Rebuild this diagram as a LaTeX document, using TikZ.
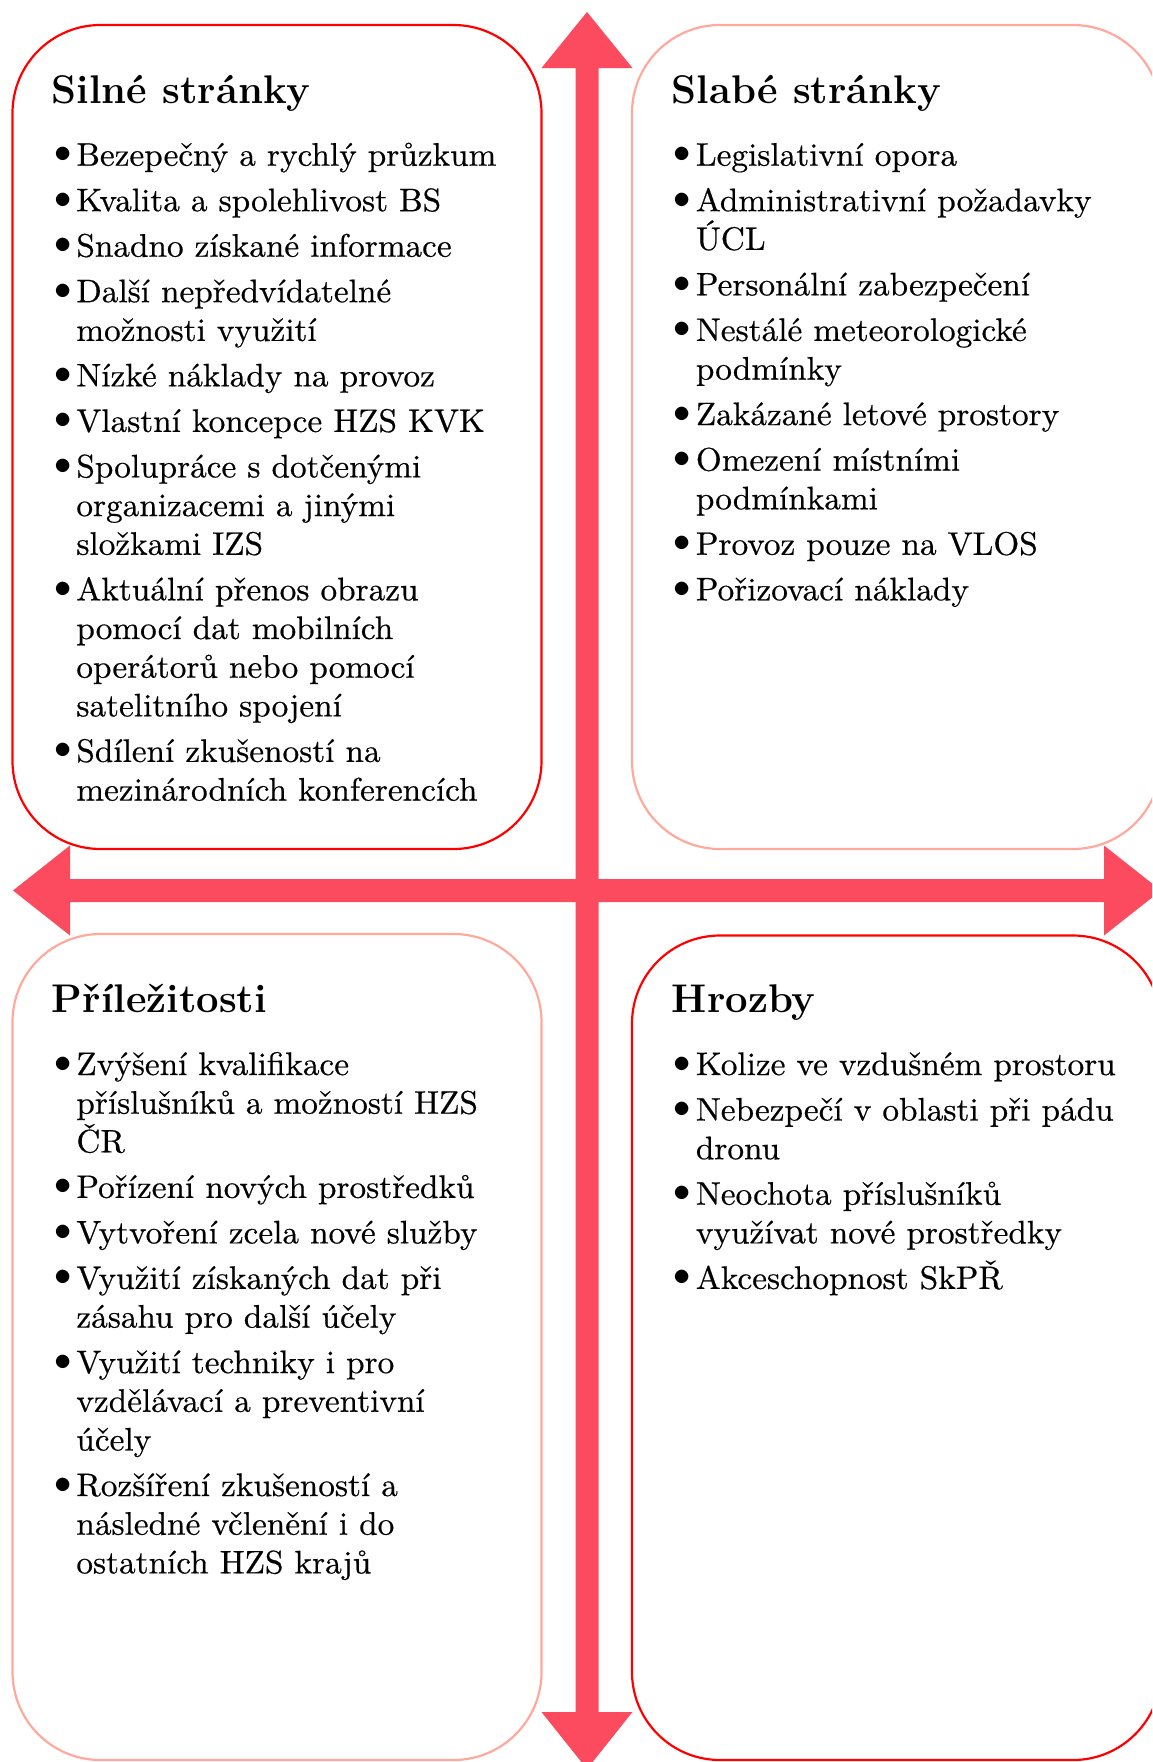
\documentclass[tikz,border=0pt]{standalone}
\usepackage{fontspec}
\newfontfamily\listfont{lmroman10-regular.otf}[FakeStretch=1.02, FakeBold=0.5]
\definecolor{boxred}{HTML}{FF0000}
\definecolor{boxlight}{HTML}{FFA99D}
\definecolor{axisred}{HTML}{FC4A5E}
\newcommand{\swotlist}[1]{\begin{minipage}[t]{260pt}\listfont\fontsize{16.3pt}{19.35pt}\selectfont\setlength{\parskip}{3.4pt}\setlength{\parindent}{0pt}#1\end{minipage}}
\newcommand{\bitem}[1]{\par\hangindent=11pt\hangafter=1\noindent\makebox[11pt][l]{\raisebox{1.5pt}{$\bullet$}}#1\par}
\begin{document}
\begin{tikzpicture}[x=0.5pt,y=-0.5pt,
  swotbox/.style={draw, line width=1.1pt, rounded corners=44pt, minimum width=264.5pt, inner sep=0pt},
  strongbox/.style={swotbox, draw=boxred},
  lightbox/.style={swotbox, draw=boxlight},
  ttl/.style={anchor=base west, inner sep=0pt, font=\fontsize{20pt}{24pt}\selectfont\bfseries},
  lst/.style={anchor=base west, inner sep=0pt},
  axis/.style={fill=axisred, draw=none}]
\useasboundingbox (0,0) rectangle (1152,1762);
\clip (0,0) rectangle (1152,1762);
% boxes
\node[strongbox, minimum height=412pt] (S) at (277,437) {};
\node[lightbox, minimum height=412pt] (W) at (896.5,437) {};
\node[lightbox, minimum height=413pt] (O) at (277,1347) {};
\node[strongbox, minimum height=412.25pt] (T) at (896.5,1347.75) {};
% axes
\fill[axis] (587,12) -- (632.5,68) -- (598.5,68) -- (598.5,1712) -- (632.5,1712) -- (587,1769)
  -- (541.5,1712) -- (575.5,1712) -- (575.5,68) -- (541.5,68) -- cycle;
\fill[axis] (13,890.5) -- (70,845.5) -- (70,879) -- (1104,879) -- (1104,845.5) -- (1161,890.5)
  -- (1104,935.5) -- (1104,902) -- (70,902) -- (70,935.5) -- cycle;
% titles
\node[ttl] (St) at (51.5,103) {Silné stránky};
\node[ttl] (Wt) at (671.5,103) {Slabé stránky};
\node[ttl] (Ot) at (51.5,1012) {Příležitosti};
\node[ttl] (Tt) at (671.5,1012) {Hrozby};
% lists
\node[lst] (Sl) at (54,165.7) {\swotlist{%
\bitem{Bezepečný a rychlý průzkum}
\bitem{Kvalita a spolehlivost BS}
\bitem{Snadno získané informace}
\bitem{Další nepředvídatelné\\možnosti využití}
\bitem{Nízké náklady na provoz}
\bitem{Vlastní koncepce HZS KVK}
\bitem{Spolupráce s dotčenými\\organizacemi a jinými\\složkami IZS}
\bitem{Aktuální přenos obrazu\\pomocí dat mobilních\\operátorů nebo pomocí\\satelitního spojení}
\bitem{Sdílení zkušeností na\\mezinárodních konferencích}}};
\node[lst] (Wl) at (673.5,165.7) {\swotlist{%
\bitem{Legislativní opora}
\bitem{Administrativní požadavky\\ÚCL}
\bitem{Personální zabezpečení}
\bitem{Nestálé meteorologické\\podmínky}
\bitem{Zakázané letové prostory}
\bitem{Omezení místními\\podmínkami}
\bitem{Provoz pouze na VLOS}
\bitem{Pořizovací náklady}}};
\node[lst] (Ol) at (54,1075) {\swotlist{%
\bitem{Zvýšení kvalifikace\\příslušníků a možností HZS\\ČR}
\bitem{Pořízení nových prostředků}
\bitem{Vytvoření zcela nové služby}
\bitem{Využití získaných dat při\\zásahu pro další účely}
\bitem{Využití techniky i pro\\vzdělávací a preventivní\\účely}
\bitem{Rozšíření zkušeností a\\následné včlenění i do\\ostatních HZS krajů}}};
\node[lst] (Tl) at (673.5,1075) {\swotlist{%
\bitem{Kolize ve vzdušném prostoru}
\bitem{Nebezpečí v oblasti při pádu\\dronu}
\bitem{Neochota příslušníků\\využívat nové prostředky}
\bitem{Akceschopnost SkPŘ}}};
\end{tikzpicture}
\end{document}
